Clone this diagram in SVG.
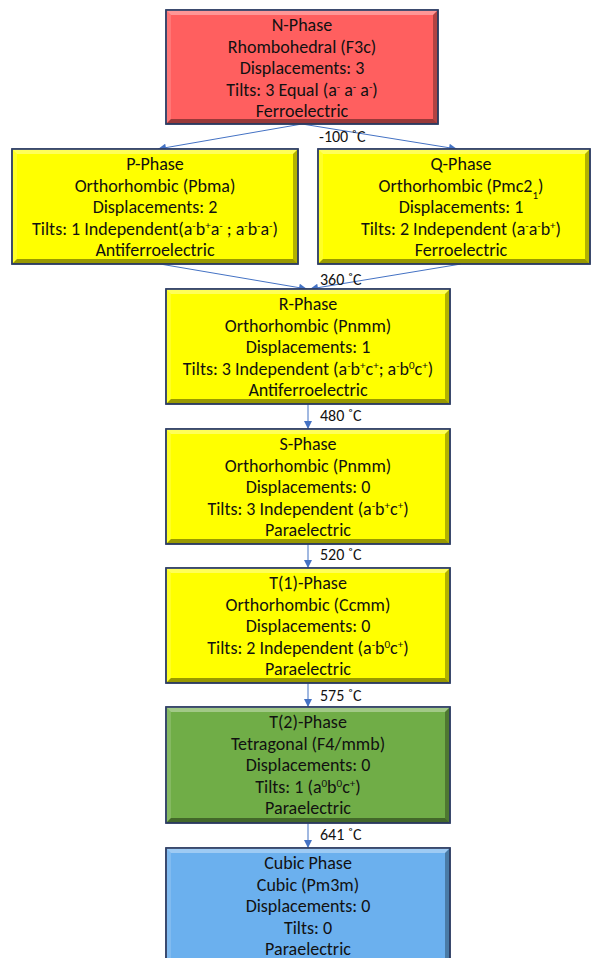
<svg xmlns="http://www.w3.org/2000/svg" width="593" height="958" viewBox="0 0 593 958">
<style>
.box{stroke:#2F3F66;stroke-width:1.5}
.hl{fill:#fff;opacity:0.35}
.hl2{fill:#fff;opacity:0.15}
.sh{fill:#000;opacity:0.3}
.sh2{fill:#000;opacity:0.4}
.t{font-family:Carlito,Calibri,"Liberation Sans",Arial,sans-serif;font-size:18px;fill:#111;text-anchor:middle}
.lbl{font-family:Carlito,Calibri,"Liberation Sans",Arial,sans-serif;font-size:16px;fill:#111}
.sup{font-size:11px;baseline-shift:super}
.sub{font-size:11px;baseline-shift:sub}
.c{fill:none;stroke:#4472C4;stroke-width:1}
</style>
<defs>
<marker id="ah" viewBox="0 0 10 10" refX="10" refY="5" markerWidth="9" markerHeight="8" markerUnits="userSpaceOnUse" orient="auto">
<path d="M0,0 L10,5 L0,10 z" fill="#4472C4"/>
</marker>
</defs>

<g id="connectors">
<path class="c" d="M302,124 L158,149" marker-end="url(#ah)"/>
<path class="c" d="M302,124 L457,149" marker-end="url(#ah)"/>
<path class="c" d="M160,264 L307,289" marker-end="url(#ah)"/>
<path class="c" d="M461,264 L310,289" marker-end="url(#ah)"/>
<path class="c" d="M308,404 L308,429" marker-end="url(#ah)"/>
<path class="c" d="M308,544 L308,568" marker-end="url(#ah)"/>
<path class="c" d="M308,683 L308,707" marker-end="url(#ah)"/>
<path class="c" d="M308,823 L308,848" marker-end="url(#ah)"/>
<text class="lbl" x="319" y="142">-100 ˚C</text>
<text class="lbl" x="320" y="285">360 ˚C</text>
<text class="lbl" x="320" y="421">480 ˚C</text>
<text class="lbl" x="320" y="560">520 ˚C</text>
<text class="lbl" x="320" y="701">575 ˚C</text>
<text class="lbl" x="320" y="840">641 ˚C</text>
</g>

<g id="n-phase" transform="translate(166,10)">
<rect class="box" width="272" height="114" fill="#FF5F5F"/>
<polygon class="hl" points="0,0 272,0 267,5 5,5"/>
<polygon class="hl2" points="0,0 5,5 5,109 0,114"/>
<polygon class="sh" points="272,0 272,114 267,109 267,5"/>
<polygon class="sh2" points="0,114 272,114 267,109 5,109"/>
<rect width="272" height="114" fill="none" class="box"/>
<text class="t" x="136" y="21">N-Phase</text>
<text class="t" x="136" y="42.5">Rhombohedral (F3c)</text>
<text class="t" x="136" y="64">Displacements: 3</text>
<text class="t" x="136" y="85.5">Tilts: 3 Equal (a<tspan class="sup">-</tspan> a<tspan class="sup">-</tspan> a<tspan class="sup">-</tspan>)</text>
<text class="t" x="136" y="107">Ferroelectric</text>
</g>

<g id="p-phase" transform="translate(12,149)">
<rect class="box" width="286" height="115" fill="#FFFF00"/>
<polygon class="hl" points="0,0 286,0 281,5 5,5"/>
<polygon class="hl2" points="0,0 5,5 5,110 0,115"/>
<polygon class="sh" points="286,0 286,115 281,110 281,5"/>
<polygon class="sh2" points="0,115 286,115 281,110 5,110"/>
<rect width="286" height="115" fill="none" class="box"/>
<text class="t" x="143" y="21">P-Phase</text>
<text class="t" x="143" y="42.5">Orthorhombic (Pbma)</text>
<text class="t" x="143" y="64">Displacements: 2</text>
<text class="t" x="143" y="85.5">Tilts: 1 Independent(a<tspan class="sup">-</tspan>b<tspan class="sup">+</tspan>a<tspan class="sup">-</tspan> ; a<tspan class="sup">-</tspan>b<tspan class="sup">-</tspan>a<tspan class="sup">-</tspan>)</text>
<text class="t" x="143" y="107">Antiferroelectric</text>
</g>

<g id="q-phase" transform="translate(318,149)">
<rect class="box" width="272" height="115" fill="#FFFF00"/>
<polygon class="hl" points="0,0 272,0 267,5 5,5"/>
<polygon class="hl2" points="0,0 5,5 5,110 0,115"/>
<polygon class="sh" points="272,0 272,115 267,110 267,5"/>
<polygon class="sh2" points="0,115 272,115 267,110 5,110"/>
<rect width="272" height="115" fill="none" class="box"/>
<text class="t" x="143" y="21">Q-Phase</text>
<text class="t" x="143" y="42.5">Orthorhombic (Pmc2<tspan class="sub">1</tspan>)</text>
<text class="t" x="143" y="64">Displacements: 1</text>
<text class="t" x="143" y="85.5">Tilts: 2 Independent (a<tspan class="sup">-</tspan>a<tspan class="sup">-</tspan>b<tspan class="sup">+</tspan>)</text>
<text class="t" x="143" y="107">Ferroelectric</text>
</g>

<g id="r-phase" transform="translate(166,289)">
<rect class="box" width="284" height="115" fill="#FFFF00"/>
<polygon class="hl" points="0,0 284,0 279,5 5,5"/>
<polygon class="hl2" points="0,0 5,5 5,110 0,115"/>
<polygon class="sh" points="284,0 284,115 279,110 279,5"/>
<polygon class="sh2" points="0,115 284,115 279,110 5,110"/>
<rect width="284" height="115" fill="none" class="box"/>
<text class="t" x="142" y="21">R-Phase</text>
<text class="t" x="142" y="42.5">Orthorhombic (Pnmm)</text>
<text class="t" x="142" y="64">Displacements: 1</text>
<text class="t" x="142" y="85.5">Tilts: 3 Independent (a<tspan class="sup">-</tspan>b<tspan class="sup">+</tspan>c<tspan class="sup">+</tspan>; a<tspan class="sup">-</tspan>b<tspan class="sup">0</tspan>c<tspan class="sup">+</tspan>)</text>
<text class="t" x="142" y="107">Antiferroelectric</text>
</g>

<g id="s-phase" transform="translate(166,429)">
<rect class="box" width="284" height="115" fill="#FFFF00"/>
<polygon class="hl" points="0,0 284,0 279,5 5,5"/>
<polygon class="hl2" points="0,0 5,5 5,110 0,115"/>
<polygon class="sh" points="284,0 284,115 279,110 279,5"/>
<polygon class="sh2" points="0,115 284,115 279,110 5,110"/>
<rect width="284" height="115" fill="none" class="box"/>
<text class="t" x="142" y="21">S-Phase</text>
<text class="t" x="142" y="42.5">Orthorhombic (Pnmm)</text>
<text class="t" x="142" y="64">Displacements: 0</text>
<text class="t" x="142" y="85.5">Tilts: 3 Independent (a<tspan class="sup">-</tspan>b<tspan class="sup">+</tspan>c<tspan class="sup">+</tspan>)</text>
<text class="t" x="142" y="107">Paraelectric</text>
</g>

<g id="t1-phase" transform="translate(166,568)">
<rect class="box" width="284" height="115" fill="#FFFF00"/>
<polygon class="hl" points="0,0 284,0 279,5 5,5"/>
<polygon class="hl2" points="0,0 5,5 5,110 0,115"/>
<polygon class="sh" points="284,0 284,115 279,110 279,5"/>
<polygon class="sh2" points="0,115 284,115 279,110 5,110"/>
<rect width="284" height="115" fill="none" class="box"/>
<text class="t" x="142" y="21">T(1)-Phase</text>
<text class="t" x="142" y="42.5">Orthorhombic (Ccmm)</text>
<text class="t" x="142" y="64">Displacements: 0</text>
<text class="t" x="142" y="85.5">Tilts: 2 Independent (a<tspan class="sup">-</tspan>b<tspan class="sup">0</tspan>c<tspan class="sup">+</tspan>)</text>
<text class="t" x="142" y="107">Paraelectric</text>
</g>

<g id="t2-phase" transform="translate(166,707)">
<rect class="box" width="284" height="116" fill="#70AD47"/>
<polygon class="hl" points="0,0 284,0 279,5 5,5"/>
<polygon class="hl2" points="0,0 5,5 5,111 0,116"/>
<polygon class="sh" points="284,0 284,116 279,111 279,5"/>
<polygon class="sh2" points="0,116 284,116 279,111 5,111"/>
<rect width="284" height="116" fill="none" class="box"/>
<text class="t" x="142" y="21">T(2)-Phase</text>
<text class="t" x="142" y="42.5">Tetragonal (F4/mmb)</text>
<text class="t" x="142" y="64">Displacements: 0</text>
<text class="t" x="142" y="85.5">Tilts: 1 (a<tspan class="sup">0</tspan>b<tspan class="sup">0</tspan>c<tspan class="sup">+</tspan>)</text>
<text class="t" x="142" y="107">Paraelectric</text>
</g>

<g id="cubic-phase" transform="translate(166,848)">
<rect class="box" width="284" height="115" fill="#6BB0EE"/>
<polygon class="hl" points="0,0 284,0 279,5 5,5"/>
<polygon class="hl2" points="0,0 5,5 5,110 0,115"/>
<polygon class="sh" points="284,0 284,115 279,110 279,5"/>
<polygon class="sh2" points="0,115 284,115 279,110 5,110"/>
<rect width="284" height="115" fill="none" class="box"/>
<text class="t" x="142" y="21">Cubic Phase</text>
<text class="t" x="142" y="42.5">Cubic (Pm3m)</text>
<text class="t" x="142" y="64">Displacements: 0</text>
<text class="t" x="142" y="85.5">Tilts: 0</text>
<text class="t" x="142" y="107">Paraelectric</text>
</g>
</svg>
